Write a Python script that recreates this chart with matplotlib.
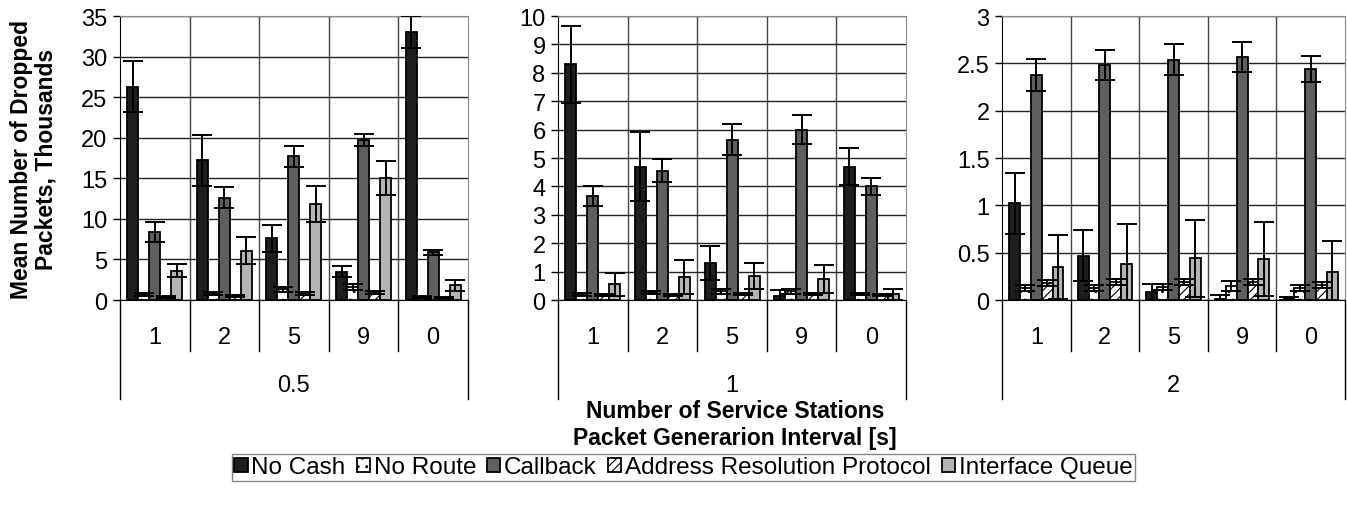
import matplotlib.pyplot as plt
import matplotlib.transforms as mtransforms
from matplotlib.ticker import FuncFormatter
import numpy as np

plt.rcParams['font.family'] = ['Liberation Sans', 'DejaVu Sans']
plt.rcParams['hatch.linewidth'] = 0.8

# data
stations = ['1', '2', '5', '9', '0']
intervals = ['0.5', '1', '2']
series = ['No Cash', 'No Route', 'Callback', 'Address Resolution Protocol', 'Interface Queue']

# mean values per interval: rows = series, cols = stations
means_05 = [[26.3, 17.2, 7.6, 3.5, 33.0],
            [0.7, 0.8, 1.3, 1.6, 0.4],
            [8.4, 12.6, 17.7, 19.7, 5.9],
            [0.4, 0.5, 0.8, 0.9, 0.3],
            [3.6, 6.1, 11.8, 15.0, 1.8]]
errs_05 = [[3.1, 3.1, 1.7, 0.7, 2.0],
           [0.2, 0.2, 0.3, 0.4, 0.15],
           [1.2, 1.3, 1.3, 0.7, 0.3],
           [0.1, 0.1, 0.15, 0.15, 0.1],
           [0.8, 1.7, 2.2, 2.1, 0.7]]

means_1 = [[8.3, 4.7, 1.3, 0.15, 4.7],
           [0.2, 0.25, 0.3, 0.3, 0.2],
           [3.65, 4.55, 5.65, 6.0, 4.0],
           [0.18, 0.18, 0.2, 0.2, 0.18],
           [0.55, 0.8, 0.85, 0.75, 0.2]]
errs_1 = [[1.35, 1.2, 0.6, 0.2, 0.65],
          [0.05, 0.05, 0.08, 0.08, 0.03],
          [0.35, 0.4, 0.55, 0.5, 0.3],
          [0.03, 0.03, 0.03, 0.03, 0.03],
          [0.4, 0.6, 0.45, 0.5, 0.2]]

means_2 = [[1.02, 0.47, 0.08, 0.01, 0.02],
           [0.13, 0.13, 0.14, 0.15, 0.13],
           [2.38, 2.48, 2.54, 2.57, 2.44],
           [0.18, 0.19, 0.19, 0.19, 0.16],
           [0.35, 0.38, 0.44, 0.43, 0.30]]
errs_2 = [[0.32, 0.27, 0.09, 0.04, 0.015],
          [0.03, 0.03, 0.03, 0.05, 0.03],
          [0.17, 0.16, 0.16, 0.16, 0.14],
          [0.03, 0.03, 0.03, 0.03, 0.03],
          [0.34, 0.42, 0.41, 0.39, 0.32]]

ymax = [35, 10, 3]
ystep = [5, 1, 0.5]

colors = ['#1e1e1e', 'white', '#5f5f5f', 'white', '#b4b4b4']
hatches = [None, '..', None, '////', None]

fs = 17

fig = plt.figure(figsize=(13.47, 5.06), dpi=100)
lefts = [0.0891, 0.4143, 0.7439]
widths = [0.2583, 0.2583, 0.2546]
allmeans = [means_05, means_1, means_2]
allerrs = [errs_05, errs_1, errs_2]

x = np.arange(len(stations))
w = 0.158
handles = []
for k in range(3):
    ax = fig.add_axes([lefts[k], 0.4051, widths[k], 0.5613])
    for j in range(5):
        b = ax.bar(x + (j - 2) * w, allmeans[k][j], w, color=colors[j], hatch=hatches[j],
                   edgecolor='black', linewidth=1.3, zorder=3,
                   yerr=allerrs[k][j], capsize=7,
                   error_kw=dict(ecolor='black', elinewidth=1.4, capthick=1.4, zorder=4))
        if k == 0:
            handles.append(b)
    ax.set_xlim(-0.5, 4.5)
    ax.set_ylim(0, ymax[k])
    ax.set_yticks(np.arange(0, ymax[k] + ystep[k] / 2, ystep[k]))
    ax.yaxis.set_major_formatter(FuncFormatter(lambda v, p: '%g' % v))
    ax.set_xticks(x)
    ax.set_xticklabels(stations)
    ax.set_xticks(x[:-1] + 0.5, minor=True)
    ax.tick_params(axis='x', which='both', length=0, pad=19, labelsize=fs)
    ax.tick_params(axis='y', length=5, width=1, direction='out', labelsize=fs, pad=4)
    ax.grid(axis='y', which='major', color='#222222', linewidth=1, zorder=0)
    ax.grid(axis='x', which='minor', color='#444444', linewidth=1, zorder=0)
    for s in ['top', 'right']:
        ax.spines[s].set_color('#888888')
    ax.spines['left'].set_color('black')
    ax.spines['bottom'].set_color('black')

    trans = mtransforms.blended_transform_factory(ax.transData, ax.transAxes)
    for xb in x[:-1] + 0.5:
        ax.plot([xb, xb], [0, -0.18], transform=trans, color='black', lw=1, clip_on=False)
    for xb in [-0.5, 4.5]:
        ax.plot([xb, xb], [0, -0.35], transform=trans, color='black', lw=1, clip_on=False)
    ax.text(0.5, -0.3, intervals[k], transform=ax.transAxes, ha='center', va='center', fontsize=fs)

fig.text(0.025, 0.684, 'Mean Number of Dropped\nPackets, Thousands', rotation=90,
         ha='center', va='center', fontsize=16.5, fontweight='bold', linespacing=1.05)
fig.text(0.5457, 0.160, 'Number of Service Stations\nPacket Generarion Interval [s]',
         ha='center', va='center', fontsize=16.5, fontweight='bold', linespacing=1.2)

leg = fig.legend(handles, series, loc='upper left', bbox_to_anchor=(0.1722, 0.1008), ncol=5,
                 fontsize=17.5, frameon=True, fancybox=False, edgecolor='#666666',
                 handlelength=0.55, handleheight=0.55, handletextpad=0.15,
                 columnspacing=0.45, borderpad=0.1, borderaxespad=0)
leg.get_frame().set_linewidth(1)

fig.savefig('out.png', dpi=100)
